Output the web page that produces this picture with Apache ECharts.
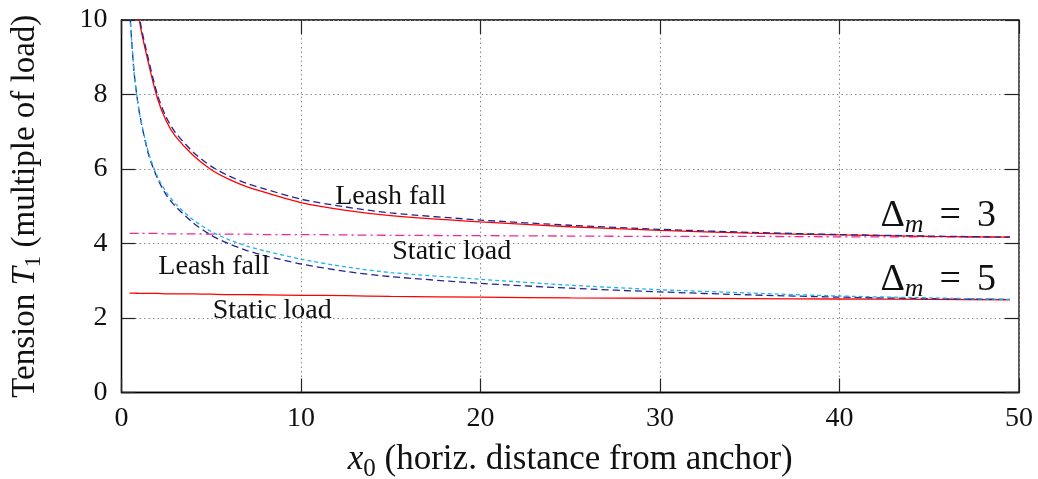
<!DOCTYPE html>
<html>
<head>
<meta charset="utf-8">
<script src="https://cdn.jsdelivr.net/npm/echarts@6/dist/echarts.min.js"></script>
<style>
  html, body { margin: 0; padding: 0; background: #fff; }
  #chart { width: 1038px; height: 479px; }
</style>
</head>
<body>
<div id="chart"></div>
<script>
// sample positions along x0 (shared by all curves)
var xs = [0.45, 0.7, 1, 1.5, 2, 2.5, 3, 4, 5, 6, 7, 8, 10, 12.5, 15, 20, 25, 30, 35, 40, 45, 49.5];

// Delta_m = 3
var m3FallRed  = [null, 12.5, 10.0, 8.85, 7.9, 7.28, 6.88, 6.36, 5.98, 5.72, 5.52, 5.37, 5.10, 4.89, 4.75, 4.58, 4.45, 4.35, 4.28, 4.23, 4.19, 4.17];
var m3FallNavy = [null, 12.6, 10.1, 8.95, 8.0, 7.38, 6.98, 6.45, 6.07, 5.81, 5.61, 5.46, 5.19, 4.98, 4.82, 4.63, 4.49, 4.38, 4.30, 4.24, 4.20, 4.17];
var m3Static   = [4.27, 4.27, 4.27, 4.27, 4.27, 4.26, 4.26, 4.26, 4.25, 4.25, 4.25, 4.24, 4.24, 4.23, 4.22, 4.21, 4.20, 4.19, 4.19, 4.18, 4.18, 4.17];

// Delta_m = 5
var m5FallNavy = [10.3, 8.6, 7.5, 6.4, 5.75, 5.3, 5.0, 4.55, 4.22, 3.99, 3.81, 3.67, 3.45, 3.25, 3.11, 2.93, 2.80, 2.70, 2.62, 2.56, 2.52, 2.50];
var m5FallCyan = [10.3, 8.6, 7.5, 6.45, 5.8, 5.37, 5.07, 4.63, 4.32, 4.10, 3.93, 3.80, 3.58, 3.37, 3.22, 3.04, 2.88, 2.76, 2.67, 2.59, 2.54, 2.50];
var m5Static   = [2.67, 2.67, 2.66, 2.66, 2.66, 2.65, 2.65, 2.65, 2.64, 2.63, 2.63, 2.62, 2.61, 2.60, 2.58, 2.56, 2.54, 2.53, 2.52, 2.51, 2.50, 2.49];

// in-plot text annotations
var noteX    = [15.0, 18.4, 5.15, 8.4, 45.5, 45.5];
var noteY    = [5.27, 3.77, 3.37, 2.19, 4.74, 3.02];
var noteText = ['Leash fall', 'Static load', 'Leash fall', 'Static load',
                '{d|\u0394}{m|m}{e|=}{d|3}', '{d|\u0394}{m|m}{e|=}{d|5}'];

var xTicks = [0, 10, 20, 30, 40, 50];
var yTicks = [0, 2, 4, 6, 8, 10];

var serif = '"Liberation Serif", "DejaVu Serif", serif';
var ink = '#111';
var box = { left: 121.5, right: 19, top: 20, bottom: 86.5, containLabel: false, outerBoundsMode: 'none' };
var TICK = 14;

function pairs(ys) {
    var res = [];
    for (var i = 0; i < xs.length; i++) {
        res.push([xs[i], ys[i]]);
    }
    return res;
}

function curve(name, ys, color, type) {
    return {
        name: name,
        type: 'line',
        data: pairs(ys),
        showSymbol: false,
        smooth: 0.25,
        clip: true,
        lineStyle: { color: color, width: 1.3, type: type },
        z: 3
    };
}

function nameRich(size) {
    return {
        n: { fontFamily: serif, fontSize: size, color: ink },
        i: { fontFamily: serif, fontSize: size, fontStyle: 'italic', color: ink },
        s: { fontFamily: serif, fontSize: Math.round(size * 0.7), color: ink, padding: [Math.round(size * 0.5), 0, 0, 0] }
    };
}

// tick-only axis: pulled TICK px into the plot, outward ticks reach the frame
function tickAxis(kind, pos, gridIndex) {
    var ax = {
        type: 'value', gridIndex: gridIndex, position: pos, offset: -TICK,
        axisLine: { show: false, onZero: false },
        axisTick: { show: true, inside: false, length: TICK, lineStyle: { color: '#222', width: 1.2 } },
        axisLabel: { show: false },
        splitLine: { show: false }
    };
    if (kind === 'x') { ax.min = 0; ax.max = 50; ax.interval = 10; }
    else { ax.min = 0; ax.max = 10; ax.interval = 2; }
    return ax;
}

var notes = [];
for (var i = 0; i < noteX.length; i++) {
    notes.push({ value: [noteX[i], noteY[i]], name: noteText[i] });
}

var chart = echarts.init(document.getElementById('chart'));
chart.setOption({
    animation: false,
    textStyle: { fontFamily: serif },
    grid: [
        Object.assign({ show: true, borderColor: '#000', borderWidth: 1.3 }, box),
        Object.assign({ show: false }, box)
    ],
    xAxis: [{
        type: 'value', gridIndex: 0, min: 0, max: 50, interval: 10, position: 'bottom',
        name: '{i|x}{s|0}{n| (horiz. distance from anchor)}',
        nameLocation: 'middle', nameGap: 46,
        nameTextStyle: { rich: nameRich(35) },
        axisLine: { show: true, onZero: false, lineStyle: { color: '#000', width: 1.3 } },
        axisTick: { show: false },
        axisLabel: { show: true, fontFamily: serif, fontSize: 28, color: ink, margin: 12,
                     customValues: xTicks },
        splitLine: { show: true, lineStyle: { color: '#8a8a8a', type: [1.5, 3], width: 1 } }
    },
    tickAxis('x', 'top', 0),
    tickAxis('x', 'bottom', 1)],
    yAxis: [{
        type: 'value', gridIndex: 0, min: 0, max: 10, interval: 2, position: 'left',
        name: '{n|Tension }{i|T}{s|1}{n| (multiple of load)}',
        nameLocation: 'middle', nameGap: 76, nameRotate: 90,
        nameTextStyle: { rich: nameRich(33) },
        axisLine: { show: true, onZero: false, lineStyle: { color: '#000', width: 1.3 } },
        axisTick: { show: false },
        axisLabel: { show: true, fontFamily: serif, fontSize: 28, color: ink, margin: 14,
                     customValues: yTicks },
        splitLine: { show: true, lineStyle: { color: '#8a8a8a', type: [1.5, 3], width: 1 } }
    },
    tickAxis('y', 'right', 0),
    tickAxis('y', 'left', 1)],
    series: [
        curve('m3 static', m3Static, '#ee2a94', [9, 4, 2, 4]),
        curve('m5 static', m5Static, '#ff0000', 'solid'),
        curve('m3 fall', m3FallRed, '#ff0000', 'solid'),
        curve('m3 fall (dashed)', m3FallNavy, '#25258f', [7, 4]),
        curve('m5 fall (dashed)', m5FallNavy, '#25258f', [7, 4]),
        curve('m5 fall (cyan)', m5FallCyan, '#1fb2ef', [4, 3]),
        {
            name: 'notes',
            type: 'scatter',
            data: notes,
            symbolSize: 0,
            silent: true,
            z: 5,
            itemStyle: { opacity: 1 },
            label: {
                show: true,
                position: 'inside',
                formatter: function (p) { return p.name; },
                fontFamily: serif,
                fontSize: 28,
                color: ink,
                opacity: 1,
                textBorderWidth: 0,
                rich: {
                    d: { fontFamily: serif, fontSize: 38, color: ink, textBorderWidth: 0 },
                    m: { fontFamily: serif, fontSize: 26, fontStyle: 'italic', color: ink,
                         textBorderWidth: 0, padding: [18, 0, 0, 0] },
                    e: { fontFamily: serif, fontSize: 38, color: ink, textBorderWidth: 0,
                         padding: [0, 16, 0, 16] }
                }
            }
        }
    ]
});
</script>
</body>
</html>
